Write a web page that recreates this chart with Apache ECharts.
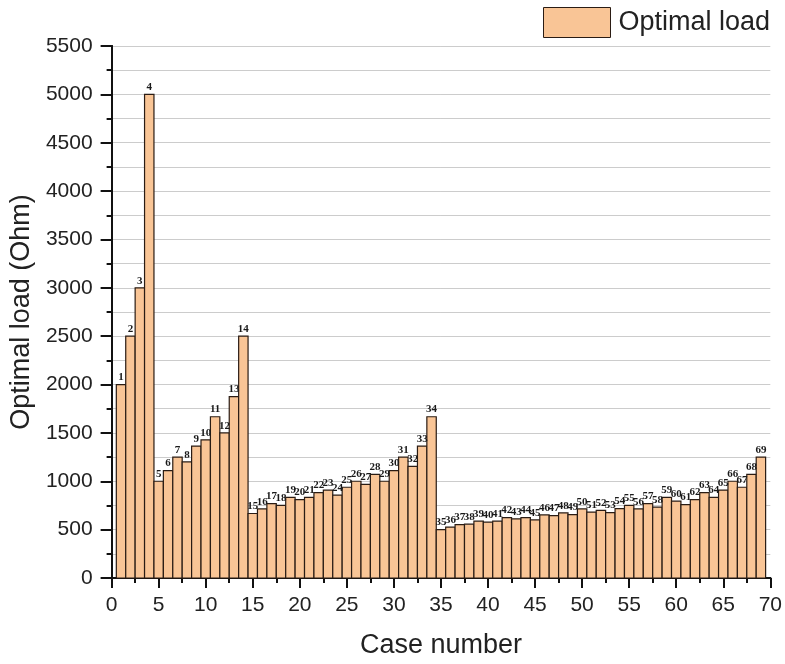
<!DOCTYPE html>
<html lang="en">
<head>
    <meta charset="UTF-8">
    <title>Optimal load</title>
    <script src="https://cdn.jsdelivr.net/npm/echarts@6/dist/echarts.min.js"></script>
    <style>
        html, body {
            margin: 0;
            padding: 0;
            background: #fff;
        }

        #main {
            width: 785px;
            height: 664px;
        }
    </style>
</head>
<body>
<div id="main"></div>

<script type="text/javascript">
    // case numbers 1..69 and optimal load (Ohm)
    const caseNumbers = [
        1, 2, 3, 4, 5, 6, 7, 8, 9, 10, 11, 12, 13, 14, 15, 16, 17, 18, 19, 20,
        21, 22, 23, 24, 25, 26, 27, 28, 29, 30, 31, 32, 33, 34, 35, 36, 37, 38, 39, 40,
        41, 42, 43, 44, 45, 46, 47, 48, 49, 50, 51, 52, 53, 54, 55, 56, 57, 58, 59, 60,
        61, 62, 63, 64, 65, 66, 67, 68, 69
    ];
    const optimalLoad = [
        2000, 2500, 3000, 5000, 1000, 1111, 1250, 1200, 1364, 1429,
        1667, 1500, 1875, 2500, 667, 714, 769, 750, 833, 811,
        833, 882, 909, 857, 938, 1000, 968, 1071, 1000, 1111,
        1250, 1154, 1364, 1667, 500, 526, 552, 556, 588, 577,
        588, 625, 612, 625, 600, 652, 645, 673, 656, 714,
        682, 700, 676, 717, 750, 714, 769, 732, 833, 795,
        758, 811, 882, 833, 909, 1000, 938, 1071, 1250
    ];
    const xTicks = {min: 0, max: 70, step: 5};
    const yTicks = {min: 0, max: 5500, step: 500};

    const axisFont = 'Liberation Sans, Arial, sans-serif';
    const lineColor = '#111';
    const barFill = '#F9C596';
    const barBorder = '#2a1c14';

    // one bar per case, one unit wide so neighbours share their edge
    function renderBar(params, api) {
        let n = api.value(0);
        let v = api.value(1);
        let topLeft = api.coord([n - 0.5, v]);
        let bottomRight = api.coord([n + 0.5, 0]);
        return {
            type: 'rect',
            shape: {
                x: topLeft[0],
                y: topLeft[1],
                width: bottomRight[0] - topLeft[0],
                height: bottomRight[1] - topLeft[1]
            },
            style: {
                fill: barFill,
                stroke: barBorder,
                lineWidth: 1.2
            },
            textContent: {
                style: {
                    text: String(n),
                    fontFamily: 'Liberation Serif, Times New Roman, serif',
                    fontWeight: 'bold',
                    fontSize: 11,
                    fill: '#1a1a1a'
                }
            },
            textConfig: {
                position: 'top',
                distance: 1
            }
        };
    }

    let chart = echarts.init(document.getElementById('main'));

    let option = {
        animation: false,
        backgroundColor: '#fff',
        legend: {
            left: 543,
            top: 7,
            padding: 0,
            icon: 'rect',
            itemWidth: 67,
            itemHeight: 30,
            textStyle: {
                fontFamily: axisFont,
                fontSize: 27,
                color: '#222',
                padding: [0, 0, 0, 3]
            },
            data: [{
                name: 'Optimal load',
                itemStyle: {color: barFill, borderColor: barBorder, borderWidth: 1}
            }]
        },
        grid: {
            left: 111,
            right: 12,
            top: 46,
            bottom: 84
        },
        xAxis: [{
            type: 'value',
            position: 'bottom',
            min: xTicks.min,
            max: xTicks.max,
            interval: xTicks.step,
            name: 'Case number',
            nameLocation: 'middle',
            nameGap: 54,
            nameTextStyle: {
                fontFamily: axisFont,
                fontSize: 27,
                color: '#222'
            },
            axisLine: {lineStyle: {color: lineColor, width: 2}},
            axisTick: {length: 10, lineStyle: {color: lineColor, width: 2}},
            minorTick: {show: true, splitNumber: 2, length: 5, lineStyle: {color: lineColor, width: 2}},
            axisLabel: {
                margin: 17,
                fontFamily: axisFont,
                fontSize: 21,
                color: '#222'
            },
            splitLine: {show: false}
        }, {
            type: 'value',
            position: 'top',
            min: xTicks.min,
            max: xTicks.max,
            interval: xTicks.step,
            axisLine: {lineStyle: {color: lineColor, width: 2}},
            axisTick: {show: false, inside: true},
            minorTick: {show: true, splitNumber: 2, length: 5, lineStyle: {color: lineColor, width: 2}},
            axisLabel: {show: false},
            splitLine: {show: false}
        }],
        yAxis: [{
            type: 'value',
            position: 'left',
            min: yTicks.min,
            max: yTicks.max,
            interval: yTicks.step,
            name: 'Optimal load (Ohm)',
            nameLocation: 'middle',
            nameGap: 57,
            nameTextStyle: {
                fontFamily: axisFont,
                fontSize: 27,
                color: '#222'
            },
            axisLine: {show: true, lineStyle: {color: lineColor, width: 2}},
            axisTick: {show: true, length: 11, lineStyle: {color: lineColor, width: 2}},
            minorTick: {show: true, splitNumber: 2, length: 5, lineStyle: {color: lineColor, width: 2}},
            axisLabel: {
                margin: 19,
                fontFamily: axisFont,
                fontSize: 21,
                color: '#222',
                formatter: function (v) {
                    return String(v);
                }
            },
            splitLine: {show: true, lineStyle: {color: '#cccccc', width: 1}},
            minorSplitLine: {show: true, lineStyle: {color: '#cccccc', width: 1}}
        }, {
            type: 'value',
            position: 'right',
            min: yTicks.min,
            max: yTicks.max,
            interval: yTicks.step,
            axisLine: {show: true, lineStyle: {color: lineColor, width: 2}},
            axisTick: {show: false, inside: true},
            minorTick: {show: true, splitNumber: 2, length: 5, lineStyle: {color: lineColor, width: 2}},
            axisLabel: {show: false},
            splitLine: {show: false}
        }],
        series: [{
            name: 'Optimal load',
            type: 'custom',
            xAxisIndex: 0,
            yAxisIndex: 0,
            renderItem: renderBar,
            itemStyle: {color: barFill, borderColor: barBorder, borderWidth: 1},
            encode: {x: 0, y: 1},
            data: caseNumbers.map(function (n, i) {
                return [n, optimalLoad[i]];
            })
        }]
    };

    chart.setOption(option);
</script>
</body>
</html>
